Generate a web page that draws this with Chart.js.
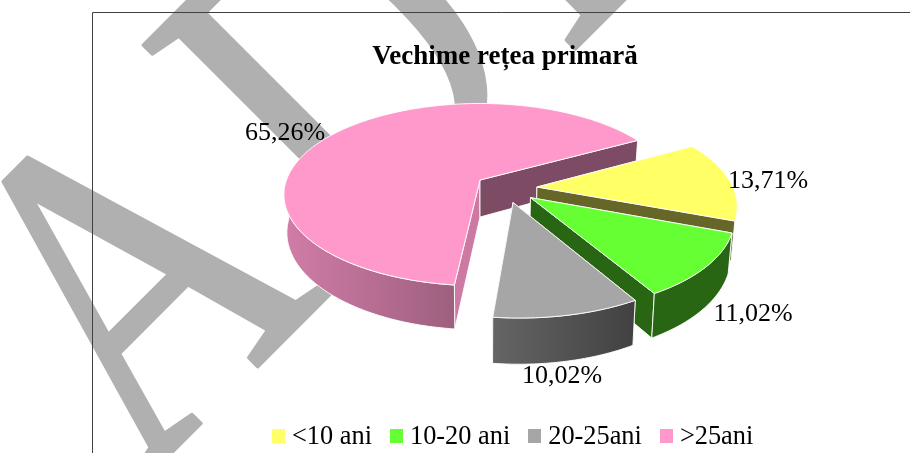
<!DOCTYPE html>
<html>
<head>
<meta charset="utf-8">
<title>Vechime rețea primară</title>
<script src="https://cdn.jsdelivr.net/npm/chart.js@4/dist/chart.umd.js"></script>
<style>
  body { margin: 0; background: #fff; }
  #wrap { position: relative; width: 910px; height: 453px; overflow: hidden; }
  #legend { position: absolute; left: 272px; top: 420px; display: flex; font: 26.35px/32px "Liberation Serif", serif; color: #000; white-space: nowrap; }
  #legend span.item { display: flex; align-items: center; margin-right: 18px; }
  #legend i { display: block; width: 13px; height: 14px; margin-right: 7px; }
</style>
</head>
<body>
<div id="wrap">
  <canvas id="chart" width="910" height="453"></canvas>
  <div id="legend"></div>
</div>
<script>
// DATA
const chartTitle = 'Vechime rețea primară';
const categories = ['<10 ani', '10-20 ani', '20-25ani', '>25ani'];
const shares = [13.71, 11.02, 10.02, 65.26];

// STYLE
const sliceColors = ['#ffff66', '#66ff33', '#a6a6a6', '#ff99cc'];
const outerShades = [[0.4, 0.4], [0.4, 0.4], [0.61, 0.39], [0.82, 0.62]];
const sideShades = [[0.4, 0.4], [0.4, 0.4], [0.4, 0.4], [0.8, 0.49]];
const labelSpots = [[768, 181], [753, 314], [562, 376], [285, 133]];
const watermark = 'ADR';

// PERSPECTIVE OF THE PIE PLANE (unit circle -> screen)
const OX = 480, OY = 180, RX = 193.5, RY = 88.8, TILT = 0.16, DEPTH = 37, FLOOR_SHRINK = 0.985;
const CENTER_U = 0.132, CENTER_V = 0.089, EXPLODE = 0.159;

function project(u, v, down) {
  const w = 1 - TILT * v;
  const spread = down ? FLOOR_SHRINK : 1;
  return [OX + spread * RX * u / w, OY + (RY * v + down * DEPTH) / w];
}

function shade(hex, f) {
  const n = parseInt(hex.slice(1), 16);
  return `rgb(${Math.round((n >> 16) * f)},${Math.round(((n >> 8) & 255) * f)},${Math.round((n & 255) * f)})`;
}

function polygon(ctx, pts, fill, edge) {
  ctx.beginPath();
  pts.forEach((p, i) => i ? ctx.lineTo(p[0], p[1]) : ctx.moveTo(p[0], p[1]));
  ctx.closePath();
  ctx.fillStyle = fill;
  ctx.fill();
  ctx.strokeStyle = edge;
  ctx.lineWidth = 1;
  ctx.stroke();
}

// Arc element that paints its slice as a block on the tilted plane
class Arc3d extends Chart.registry.getElement('arc') {
  static id = 'arc3d';

  draw(ctx) {
    const { startAngle, endAngle } = this.getProps(['startAngle', 'endAngle']);
    const color = this.options.backgroundColor;
    const edge = this.options.borderColor;
    const idx = this.$context.dataIndex;
    const mid = (startAngle + endAngle) / 2;
    const cu = CENTER_U + EXPLODE * Math.cos(mid);
    const cv = CENTER_V + EXPLODE * Math.sin(mid);

    const steps = Math.ceil((endAngle - startAngle) / 0.02);
    const rim = [];
    for (let i = 0; i <= steps; i++) {
      const a = startAngle + (endAngle - startAngle) * i / steps;
      rim.push([cu + Math.cos(a), cv + Math.sin(a), Math.sin(a)]);
    }
    const top = rim.map(p => project(p[0], p[1], 0));
    const bottom = rim.map(p => project(p[0], p[1], 1));
    const apexTop = project(cu, cv, 0);
    const apexBottom = project(cu, cv, 1);

    // the two cut faces
    polygon(ctx, [apexTop, top[0], bottom[0], apexBottom], shade(color, sideShades[idx][0]), edge);
    polygon(ctx, [apexTop, top[steps], bottom[steps], apexBottom], shade(color, sideShades[idx][1]), edge);

    // outer wall, only the part that faces the viewer (a short stretch stays hidden)
    const frontTop = top.filter((p, i) => rim[i][2] >= 0);
    const frontBottom = bottom.filter((p, i) => rim[i][2] >= 0);
    if (frontTop.length > 25) {
      const xs = frontTop.map(p => p[0]);
      const grad = ctx.createLinearGradient(Math.min(...xs), 0, Math.max(...xs), 0);
      grad.addColorStop(0, shade(color, outerShades[idx][0]));
      grad.addColorStop(1, shade(color, outerShades[idx][1]));
      polygon(ctx, frontTop.concat(frontBottom.slice().reverse()), grad, edge);
    }

    // top face
    polygon(ctx, [apexTop].concat(top), color, edge);
  }
}

class Pie3d extends Chart.registry.getController('pie') {
  static id = 'pie3d';
  static defaults = { dataElementType: 'arc3d' };

  // biggest slice sits behind the others
  draw() {
    const ctx = this.chart.ctx;
    const arcs = this._cachedMeta.data.slice();
    arcs.sort((a, b) => b.circumference - a.circumference);
    arcs.forEach(a => a.draw(ctx));
  }
}

Chart.register(Arc3d, Pie3d);

// BACKGROUND: watermark and frame
const backdrop = {
  id: 'backdrop',
  beforeDraw(chart) {
    const ctx = chart.ctx;
    ctx.save();
    ctx.fillStyle = '#fff';
    ctx.fillRect(0, 0, 910, 453);
    ctx.save();
    ctx.translate(141, 483);
    ctx.rotate(-Math.PI / 4);
    ctx.scale(0.8, 1);
    ctx.font = '470px "Liberation Serif"';
    ctx.letterSpacing = '36px';
    ctx.fillStyle = '#b0b0b0';
    ctx.strokeStyle = '#b0b0b0';
    ctx.lineWidth = 4;
    ctx.lineJoin = 'round';
    ctx.fillText(watermark, 0, 0);
    ctx.strokeText(watermark, 0, 0);
    ctx.restore();
    ctx.strokeStyle = '#404040';
    ctx.lineWidth = 1;
    ctx.beginPath();
    ctx.moveTo(92.5, 453);
    ctx.lineTo(92.5, 12.5);
    ctx.lineTo(910, 12.5);
    ctx.stroke();
    ctx.restore();
  }
};

// PERCENT LABELS
const percentLabels = {
  id: 'percentLabels',
  afterDatasetsDraw(chart) {
    const ctx = chart.ctx;
    ctx.save();
    ctx.font = '26px "Liberation Serif"';
    ctx.fillStyle = '#000';
    ctx.textAlign = 'center';
    ctx.textBaseline = 'middle';
    shares.forEach((v, i) => {
      ctx.fillText(v.toFixed(2).replace('.', ',') + '%', labelSpots[i][0], labelSpots[i][1]);
    });
    ctx.restore();
  }
};

new Chart(document.getElementById('chart'), {
  type: 'pie3d',
  data: {
    labels: categories,
    datasets: [{ data: shares, backgroundColor: sliceColors, borderColor: 'rgba(255,255,255,0.9)', borderWidth: 1 }]
  },
  options: {
    responsive: false,
    animation: false,
    rotation: 61.3,
    layout: { padding: { left: 100 } },
    plugins: {
      legend: { display: false },
      tooltip: { enabled: false },
      title: {
        display: true,
        text: chartTitle,
        color: '#000',
        font: { family: '"Liberation Serif"', size: 27, weight: 'bold', lineHeight: 1.2 },
        padding: { top: 41, bottom: 10 }
      }
    }
  },
  plugins: [backdrop, percentLabels]
});

// LEGEND
const legendEl = document.getElementById('legend');
categories.forEach((c, i) => {
  const item = document.createElement('span');
  item.className = 'item';
  const box = document.createElement('i');
  box.style.background = sliceColors[i];
  item.appendChild(box);
  item.appendChild(document.createTextNode(c));
  legendEl.appendChild(item);
});
</script>
</body>
</html>
